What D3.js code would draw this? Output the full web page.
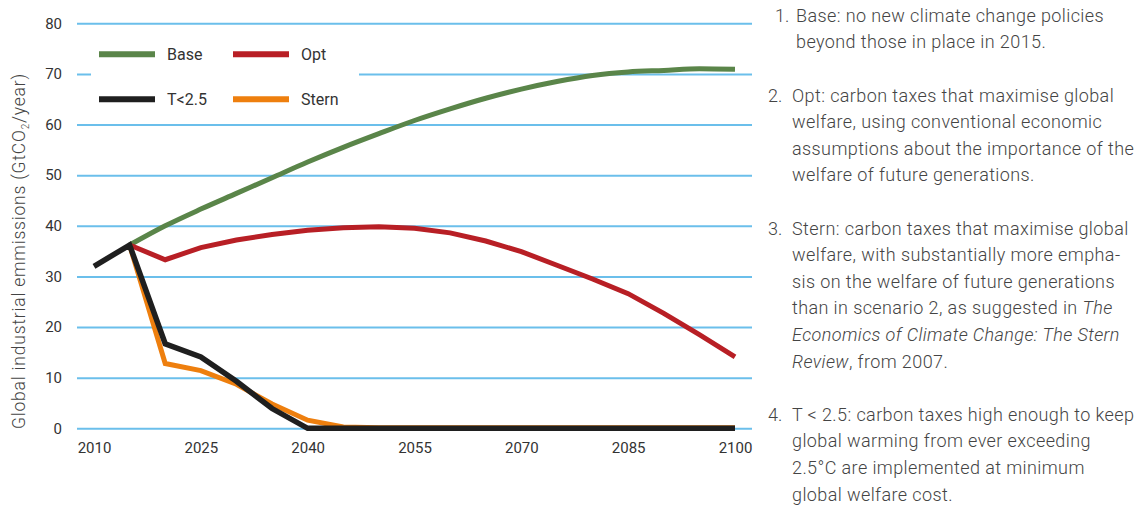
<!DOCTYPE html>
<html><head><meta charset="utf-8">
<script src="https://cdn.jsdelivr.net/npm/d3@7"></script>
<style>
body{margin:0;background:#fff}
svg{display:block}
text{font-family:Roboto, "Noto Sans", sans-serif}
</style>
</head><body>
<svg id="c" width="1143" height="506"></svg>
<script>
// ---- data ----
const years = [2010,2015,2020,2025,2030,2035,2040,2045,2050,2055,2060,2065,2070,2075,2080,2085,2090,2095,2100];
const baseVals  = [null,36.2,40.0,43.3,46.4,49.5,52.6,55.5,58.2,60.8,63.1,65.2,67.0,68.5,69.7,70.4,70.7,71.0,70.9];
const optVals   = [null,36.2,33.3,35.7,37.2,38.3,39.1,39.6,39.8,39.5,38.6,37.0,34.9,32.2,29.5,26.6,22.7,18.5,14.1];
const sternVals = [null,36.2,12.8,11.4,8.7,4.8,1.6,0.25,0.1,0.1,0.1,0.1,0.1,0.1,0.1,0.1,0.1,0.1,0.1];
const t25Vals   = [32.0,36.2,16.7,14.1,9.3,3.9,0,0,0,0,0,0,0,0,0,0,0,0,0];
const xTicks = [2010,2025,2040,2055,2070,2085,2100];
const yTicks = [0,10,20,30,40,50,60,70,80];
const seriesNames = ["Base","Opt","T<2.5","Stern"];
const seriesColors = {"Base":"#5a8549","Opt":"#b81f25","T<2.5":"#1f1f1f","Stern":"#ee7f0e"};
const yTitle = ["Global industrial emmissions (GtCO","2","/year)"];
const notes = [
  {num:"1.", lines:[["Base: no new climate change policies"],["beyond those in place in 2015."]]},
  {num:"2.", lines:[["Opt: carbon taxes that maximise global"],["welfare, using conventional economic"],["assumptions about the importance of the"],["welfare of future generations."]]},
  {num:"3.", lines:[["Stern: carbon taxes that maximise global"],["welfare, with substantially more empha-"],["sis on the welfare of future generations"],["than in scenario 2, as suggested in ",{i:"The"}],[{i:"Economics of Climate Change: The Stern"}],[{i:"Review"},", from 2007."]]},
  {num:"4.", lines:[["T < 2.5: carbon taxes high enough to keep"],["global warming from ever exceeding"],["2.5°C are implemented at minimum"],["global welfare cost."]]}
];

// ---- layout ----
const svg = d3.select("#c");
const gridLeft = 77, gridRight = 752;
const x = d3.scaleLinear().domain([2010,2100]).range([94,735]);
const y = d3.scaleLinear().domain([0,80]).range([428.3,23.3]);

// grid + y labels
const gy = svg.append("g").attr("transform",`translate(${gridLeft},0)`)
  .call(d3.axisLeft(y).tickValues(yTicks).tickSize(-(gridRight-gridLeft)).tickPadding(15));
gy.select(".domain").remove();
gy.selectAll(".tick line").attr("stroke","#6bbfeb").attr("stroke-width",2);
gy.selectAll(".tick text").attr("fill","#333").style("font-size","15px").attr("font-family","Roboto");

// legend background box (interrupts gridline)
svg.append("rect").attr("x",91).attr("y",36).attr("width",268).attr("height",80).attr("fill","#fff");

// x labels
const gx = svg.append("g").attr("transform",`translate(0,428.3)`)
  .call(d3.axisBottom(x).tickValues(xTicks).tickFormat(d3.format("d")).tickSize(0).tickPadding(14));
gx.select(".domain").remove();
gx.selectAll(".tick text").attr("fill","#333").style("font-size","15px").attr("font-family","Roboto");

// lines
const seriesData = {"Base":baseVals,"Opt":optVals,"T<2.5":t25Vals,"Stern":sternVals};
const lineLin = d3.line().defined(d=>d[1]!=null).x(d=>x(d[0])).y(d=>y(d[1]));
const lineSmooth = d3.line().defined(d=>d[1]!=null).x(d=>x(d[0])).y(d=>y(d[1])).curve(d3.curveMonotoneX);
["Base","Opt","Stern","T<2.5"].forEach(name=>{
  const pts = years.map((yr,i)=>[yr,seriesData[name][i]]);
  svg.append("path").datum(pts).attr("d",name==="Base"?lineSmooth:lineLin)
    .attr("fill","none").attr("stroke",seriesColors[name])
    .attr("stroke-width",name==="T<2.5"?5.5:5)
    .attr("stroke-linejoin","miter").attr("stroke-linecap","butt");
});

// legend
const legPos = [[99,54.3],[233,54.3],[99,99.3],[233,99.3]];
seriesNames.forEach((name,i)=>{
  const [lx,ly] = legPos[i];
  svg.append("line").attr("x1",lx).attr("x2",lx+56).attr("y1",ly).attr("y2",ly)
    .attr("stroke",seriesColors[name]).attr("stroke-width",6);
  svg.append("text").attr("x",lx+68).attr("y",ly+5.5).attr("fill","#333")
    .style("font-size","16px").text(name);
});

// y title
const yt = svg.append("text").attr("transform","translate(25,251) rotate(-90)")
  .attr("text-anchor","middle").attr("fill","#444").style("font-size","17.5px")
  .style("font-weight","300").style("letter-spacing","0.8px");
yt.append("tspan").text(yTitle[0]);
yt.append("tspan").attr("dy",4).style("font-size","10px").text(yTitle[1]);
yt.append("tspan").attr("dy",-4).text(yTitle[2]);

// notes on the right
const lh = 26.6, top0 = 21.7;
let idx = 0;
notes.forEach((n,k)=>{
  const numX = k===0 ? 775 : 768;
  const txtX = k===0 ? 796 : 792;
  svg.append("text").attr("x",numX).attr("y",top0+idx*lh).attr("fill","#444")
    .style("font-size","18px").style("font-weight","300").text(n.num);
  n.lines.forEach(parts=>{
    const t = svg.append("text").attr("x",txtX).attr("y",top0+idx*lh).attr("fill","#444")
      .style("font-size","18px").style("font-weight","300").style("letter-spacing","0.4px");
    parts.forEach(p=>{
      if(typeof p==="string") t.append("tspan").text(p);
      else t.append("tspan").style("font-style","italic").text(p.i);
    });
    idx++;
  });
  idx++;
});
</script>
</body></html>
